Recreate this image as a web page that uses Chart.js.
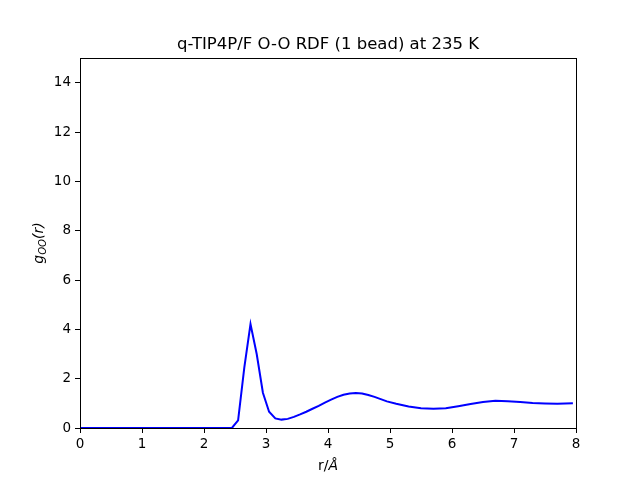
<!DOCTYPE html>
<html>
<head>
<meta charset="utf-8">
<script src="https://cdn.jsdelivr.net/npm/chart.js@4"></script>
<style>
  html, body { margin: 0; padding: 0; background: #fff; }
  #wrap { width: 640px; height: 480px; }
</style>
</head>
<body>
<div id="wrap"><canvas id="rdf"></canvas></div>
<script>
// O-O radial distribution function
const rValues = [0, 2.45, 2.55, 2.65, 2.75, 2.85, 2.95, 3.05, 3.15, 3.25, 3.35, 3.45, 3.55, 3.65,
  3.75, 3.85, 3.95, 4.05, 4.15, 4.25, 4.35, 4.45, 4.55, 4.65, 4.75, 4.85, 4.95, 5.1, 5.3,
  5.5, 5.7, 5.9, 6.1, 6.3, 6.5, 6.7, 6.9, 7.1, 7.3, 7.5, 7.7, 7.95];
const gValues = [0, 0, 0.31, 2.45, 4.21, 3.0, 1.43, 0.66, 0.39, 0.34, 0.37, 0.45, 0.55, 0.66,
  0.78, 0.9, 1.03, 1.15, 1.26, 1.35, 1.4, 1.42, 1.4, 1.34, 1.26, 1.17, 1.08, 0.98, 0.87,
  0.8, 0.78, 0.8, 0.88, 0.97, 1.05, 1.1, 1.08, 1.05, 1.01, 0.99, 0.98, 1.0];
const xTicks = [0, 1, 2, 3, 4, 5, 6, 7, 8];
const yTicks = [0, 2, 4, 6, 8, 10, 12, 14];

const titleText = "q-TIP4P/F O-O RDF (1 bead) at 235 K";
const FONT = "DejaVu Sans";

const points = rValues.map((r, i) => ({ x: r, y: gValues[i] }));

// title, axis labels (with mathtext-like subscript) and the top/right frame
const decorations = {
  id: "decorations",
  afterDraw(chart) {
    const { ctx, chartArea: a } = chart;
    ctx.save();
    ctx.strokeStyle = "#000";
    ctx.lineWidth = 1;
    ctx.strokeRect(a.left + 0.5, a.top + 0.5, a.right - a.left, a.bottom - a.top);

    ctx.fillStyle = "#000";
    ctx.textAlign = "center";
    ctx.textBaseline = "alphabetic";
    ctx.font = `16.5px ${FONT}`;
    ctx.fillText(titleText, (a.left + a.right) / 2, 49);

    // x label: r/Å
    ctx.font = `14px ${FONT}`;
    const w1 = ctx.measureText("r/").width;
    ctx.font = `italic 14px ${FONT}`;
    const w2 = ctx.measureText("Å").width;
    const sx = (a.left + a.right) / 2 - (w1 + w2) / 2;
    ctx.textAlign = "left";
    ctx.font = `14px ${FONT}`;
    ctx.fillText("r/", sx, 470);
    ctx.font = `italic 14px ${FONT}`;
    ctx.fillText("Å", sx + w1, 470);

    // y label: g_OO(r)
    ctx.translate(43, (a.top + a.bottom) / 2);
    ctx.rotate(-Math.PI / 2);
    ctx.font = `italic 14px ${FONT}`;
    const gw = ctx.measureText("g").width;
    const rw = ctx.measureText("(r)").width;
    ctx.font = `italic 10px ${FONT}`;
    const ow = ctx.measureText("OO").width;
    const px = -(gw + ow + rw) / 2;
    ctx.font = `italic 14px ${FONT}`;
    ctx.fillText("g", px, 0);
    ctx.font = `italic 10px ${FONT}`;
    ctx.fillText("OO", px + gw, 3);
    ctx.font = `italic 14px ${FONT}`;
    ctx.fillText("(r)", px + gw + ow, 0);
    ctx.restore();
  }
};

new Chart(document.getElementById("rdf"), {
  type: "line",
  data: {
    datasets: [{
      data: points,
      borderColor: "#0000ff",
      borderWidth: 2,
      pointRadius: 0,
      tension: 0,
      fill: false
    }]
  },
  options: {
    responsive: true,
    maintainAspectRatio: false,
    animation: false,
    layout: { padding: { top: 58, right: 64, left: 0, bottom: 0 } },
    plugins: { legend: { display: false }, tooltip: { enabled: false } },
    scales: {
      x: {
        type: "linear",
        min: 0,
        max: 8,
        afterBuildTicks: (s) => { s.ticks = xTicks.map(v => ({ value: v })); },
        afterFit: (s) => { s.height = 52; },
        grid: { drawOnChartArea: false, drawTicks: true, tickLength: 5, color: "#000" },
        border: { color: "#000", width: 1 },
        ticks: { color: "#000", padding: 3, font: { family: FONT, size: 13.5 }, maxRotation: 0 }
      },
      y: {
        type: "linear",
        min: 0,
        max: 15,
        afterBuildTicks: (s) => { s.ticks = yTicks.map(v => ({ value: v })); },
        afterFit: (s) => { s.width = 80; },
        grid: { drawOnChartArea: false, drawTicks: true, tickLength: 5, color: "#000" },
        border: { color: "#000", width: 1 },
        ticks: { color: "#000", padding: 4, font: { family: FONT, size: 13.5 } }
      }
    }
  },
  plugins: [decorations]
});
</script>
</body>
</html>
